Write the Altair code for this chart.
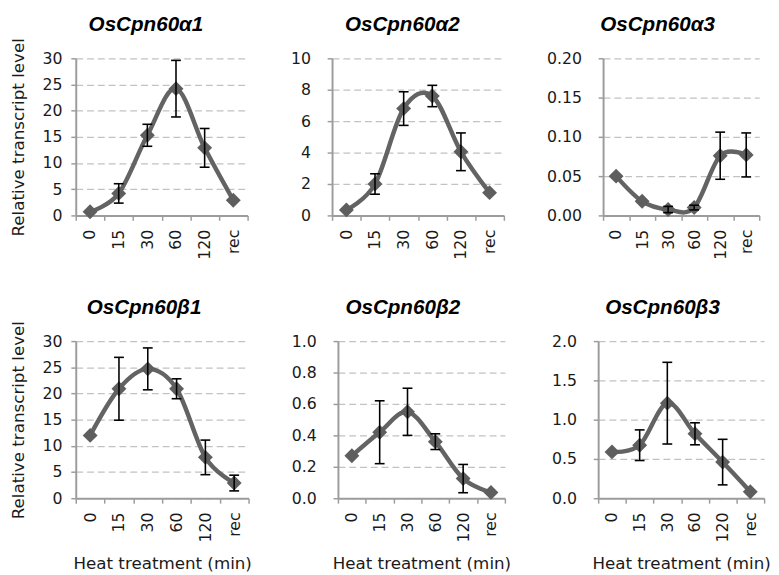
import altair as alt
import pandas as pd

times = ["0", "15", "30", "60", "120", "rec"]
genes = ["OsCpn60α1", "OsCpn60α2", "OsCpn60α3", "OsCpn60β1", "OsCpn60β2", "OsCpn60β3"]

a1_mean = [0.7, 4.2, 15.3, 24.2, 12.9, 2.9]
a1_err = [0.0, 1.85, 2.1, 5.4, 3.7, 0.0]
a2_mean = [0.35, 2.0, 6.8, 7.6, 4.05, 1.45]
a2_err = [0.0, 0.65, 1.07, 0.68, 1.2, 0.0]
a3_mean = [0.050, 0.018, 0.0075, 0.010, 0.076, 0.077]
a3_err = [0.0, 0.0, 0.004, 0.003, 0.030, 0.028]
b1_mean = [12.0, 20.9, 24.7, 20.9, 7.8, 2.9]
b1_err = [0.0, 6.0, 4.0, 1.9, 3.3, 1.5]
b2_mean = [0.27, 0.42, 0.55, 0.36, 0.125, 0.037]
b2_err = [0.0, 0.20, 0.15, 0.05, 0.09, 0.0]
b3_mean = [0.59, 0.675, 1.21, 0.82, 0.46, 0.083]
b3_err = [0.0, 0.195, 0.52, 0.14, 0.29, 0.0]

means = [a1_mean, a2_mean, a3_mean, b1_mean, b2_mean, b3_mean]
errs = [a1_err, a2_err, a3_err, b1_err, b2_err, b3_err]

y_max = [30, 10, 0.20, 30, 1.0, 2.0]
y_step = [5, 2, 0.05, 5, 0.2, 0.5]
y_fmt = ["d", "d", ".2f", "d", ".1f", ".1f"]

# layout parameters (pixels)
widths = [175, 175, 159, 176, 170, 169]
extents = [40, 85, 100, 40, 88, 89]
label_pads = [9, 17, 17, 9, 17, 17]
title_x = [71.5, 71.5, 55.5, 69.5, 66, 65.5]
TITLE_Y = -28

AX = "#9c9c9c"
FONT = "DejaVu Sans"


def panel(i):
    df = pd.DataFrame({"time": times, "mean": means[i], "err": errs[i]})
    df["lo"] = df["mean"] - df["err"]
    df["hi"] = df["mean"] + df["err"]
    n = int(round(y_max[i] / y_step[i]))
    yvals = [round(k * y_step[i], 4) for k in range(n + 1)]
    left = i in (0, 3)
    bottom = i >= 3

    xaxis = alt.Axis(
        tickBand="extent", labelAngle=-90, grid=False,
        domainColor=AX, domainWidth=2, tickColor=AX, tickWidth=1.5, tickSize=5,
        labelFont=FONT, labelFontSize=16, labelColor="#1a1a1a", labelPadding=9,
        title="Heat treatment (min)" if bottom else None,
        titleFont=FONT, titleFontSize=17, titleFontWeight="normal", titleColor="#1a1a1a",
        titlePadding=14,
    )
    yaxis = alt.Axis(
        values=yvals, format=y_fmt[i], grid=True, gridDash=[7, 4], gridColor="#c2c2c2",
        gridWidth=1.3, domainColor=AX, domainWidth=2, tickColor=AX, tickWidth=1.5,
        tickSize=5, labelFont=FONT, labelFontSize=16, labelColor="#1a1a1a",
        labelPadding=label_pads[i], labelOverlap=False,
        minExtent=extents[i], maxExtent=extents[i],
        title="Relative transcript level" if left else None,
        titleFont=FONT, titleFontSize=17, titleFontWeight="normal", titleColor="#1a1a1a",
        titlePadding=9,
    )
    xs = alt.Scale(type="band", paddingInner=0, paddingOuter=0)
    ys = alt.Scale(domain=[0, y_max[i]], nice=False, zero=False)
    x = alt.X("time:N", sort=times, scale=xs, axis=xaxis, bandPosition=0.5)

    def Y(field):
        return alt.Y(field, scale=ys, axis=yaxis)

    base = alt.Chart(df)
    line = base.mark_line(interpolate="cardinal", color="#636363", strokeWidth=4.5).encode(
        x=x, y=Y("mean:Q")
    )
    eb = base.transform_filter("datum.err > 0")
    rule = eb.mark_rule(color="black", strokeWidth=1.6).encode(
        x=x, y=Y("lo:Q"), y2="hi:Q"
    )
    cap_lo = eb.mark_tick(color="black", size=10, thickness=1.6, opacity=1).encode(
        x=x, y=Y("lo:Q")
    )
    cap_hi = eb.mark_tick(color="black", size=10, thickness=1.6, opacity=1).encode(
        x=x, y=Y("hi:Q")
    )
    pts = base.mark_point(shape="diamond", filled=True, size=230, color="#5e5e5e", opacity=1).encode(
        x=x, y=Y("mean:Q")
    )
    ttl = alt.Chart(pd.DataFrame({"gene": [genes[i]]})).mark_text(
        font="Liberation Sans", fontSize=21, fontWeight="bold", fontStyle="italic",
        align="center", baseline="alphabetic", color="black",
    ).encode(text="gene:N", x=alt.value(title_x[i]), y=alt.value(TITLE_Y))
    return alt.layer(line, pts, rule, cap_lo, cap_hi, ttl).properties(
        width=widths[i], height=160,
    )


row1 = alt.hconcat(panel(0), panel(1), panel(2), spacing=0)
row2 = alt.hconcat(panel(3), panel(4), panel(5), spacing=0)
chart = alt.vconcat(row1, row2, spacing=38).properties(
    padding={"left": 2, "top": 1, "right": 0, "bottom": 0},
    background="white",
).configure_view(stroke=None)

chart.save("out.html", embed_options={"renderer": "svg", "actions": False})
